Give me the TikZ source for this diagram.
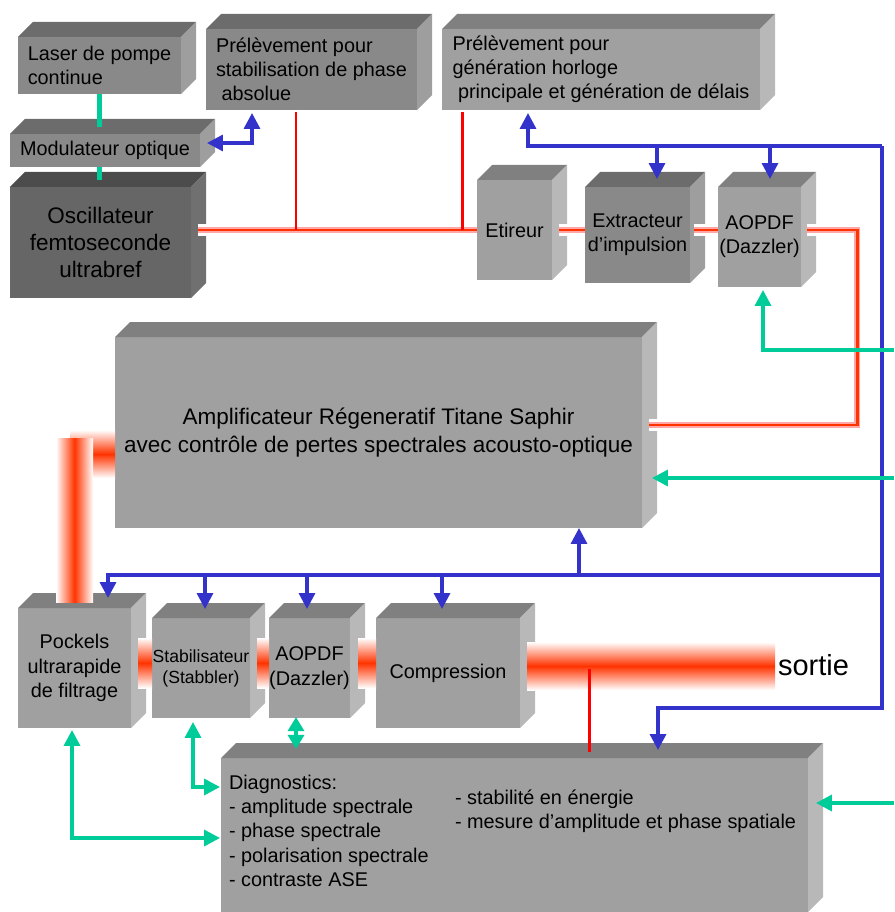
\documentclass[tikz,border=0pt]{standalone}
\usepackage{fontspec}
\setmainfont{Liberation Sans}
\usetikzlibrary{positioning,arrows.meta,calc}

\definecolor{faceC}{HTML}{A0A0A0}
\definecolor{topC}{HTML}{808080}
\definecolor{sideC}{HTML}{B8B8B8}
\definecolor{face2}{HTML}{898989}
\definecolor{top2}{HTML}{6C6C6C}
\definecolor{side2}{HTML}{9E9E9E}
\definecolor{face3}{HTML}{666666}
\definecolor{top3}{HTML}{4C4C4C}
\definecolor{side3}{HTML}{707070}
\definecolor{bleuC}{HTML}{3333CC}
\definecolor{vertC}{HTML}{00CC99}
\definecolor{rouge}{HTML}{FF0000}
\definecolor{rayon}{HTML}{FF3300}

\newcommand\ftxt{\fontsize{11.3}{13.8}\selectfont}
\newcommand\fgrand{\fontsize{12.8}{15.6}\selectfont}
\newcommand\fpetit{\fontsize{10}{12}\selectfont}
\newcommand\fsortie{\fontsize{16.5}{19}\selectfont}

\begin{document}
\begin{tikzpicture}[x=0.02cm, y=-0.02cm,
  bloc/.style={fill=faceC, inner sep=0pt, outer sep=0pt, anchor=north west, align=center, font=\ftxt},
  wh/.style 2 args={minimum width=#1*0.02cm, minimum height=#2*0.02cm},
  txt/.style={inner sep=0pt, outer sep=0pt, align=left, font=\ftxt},
  bleu/.style={draw=bleuC, line width=1.9pt},
  vert/.style={draw=vertC, line width=2pt},
  tap/.style={draw=rouge, line width=1.7pt},
  beam/.style={draw=red!35!white, line width=3.6pt, preaction={draw=white, line width=6.5pt}, postaction={draw=rayon, line width=1.7pt}},
  rayH/.style={top color=white, bottom color=white, middle color=rayon},
  rayV/.style={left color=white, right color=white, middle color=rayon},
  >={Triangle[length=9pt, width=9pt]}]

\useasboundingbox (0,0) rectangle (894,912);

\node[bloc, fill=face2, wh={163}{57}, align=left] (laser) at (18,37) {Laser de pompe\\continue};
\node[bloc, fill=face2, wh={211}{81}, align=left] (stab) at (206,29) {Prélèvement pour\\stabilisation de phase\\\hspace*{0.28em}absolue};
\node[bloc, wh={318}{81}, align=left] (horloge) at (442,29) {Prélèvement pour\\génération horloge\\\hspace*{0.28em}principale et génération de délais};
\node[bloc, fill=face2, wh={190}{33}] (modul) at (10,134) {Modulateur optique};
\node[bloc, fill=face3, wh={181}{111}, font=\fgrand] (osc) at (10,187) {Oscillateur\\femtoseconde\\ultrabref};
\node[bloc, wh={75}{100}] (etireur) at (477,180) {Etireur};
\node[bloc, fill=face2, wh={105}{96}] (extract) at (585,187) {Extracteur\\d’impulsion};
\node[bloc, wh={83}{100}] (aopdfA) at (718,187) {AOPDF\\(Dazzler)};
\node[bloc, wh={527}{191}, font=\fgrand] (ampli) at (115,337) {Amplificateur Régeneratif Titane Saphir\\avec contrôle de pertes spectrales acousto-optique};
\node[bloc, wh={113}{120}] (pockels) at (18,608) {Pockels\\ultrarapide\\de filtrage};
\node[bloc, wh={98}{100}, font=\fpetit] (stabil) at (152,618) {Stabilisateur\\(Stabbler)};
\node[bloc, wh={81}{100}] (aopdfB) at (269,618) {AOPDF\\(Dazzler)};
\node[bloc, wh={144}{110}] (compr) at (376,618) {Compression};
\node[bloc, wh={587}{154}] (diag) at (221,758) {};
\node[txt, anchor=north west] (diagL) at (229,775) {Diagnostics:\\- amplitude spectrale\\- phase spectrale\\- polarisation spectrale\\- contraste ASE};
\node[txt, anchor=north west] (diagR) at (455,790) {- stabilité en énergie\\- mesure d’amplitude et phase spatiale};
\node[txt, font=\fsortie, anchor=west] (sortie) at (778,665) {sortie};

\foreach \n/\ct/\cs in {laser/top2/side2, stab/top2/side2, horloge/topC/sideC, modul/top2/side2, osc/top3/side3, etireur/topC/sideC, extract/top2/side2, aopdfA/topC/sideC, ampli/topC/sideC, pockels/topC/sideC, stabil/topC/sideC, aopdfB/topC/sideC, compr/topC/sideC, diag/topC/sideC}{
  \fill[\ct] (\n.north west) -- ++(15,-15) -- ($(\n.north east)+(15,-15)$) -- (\n.north east) -- cycle;
  \fill[\cs] (\n.north east) -- ++(15,-15) -- ($(\n.south east)+(15,-15)$) -- (\n.south east) -- cycle;
}

% faisceau oscillateur -> ampli
\draw[beam] ($(etireur.west -| osc.east)+(7,0)$) -- (etireur.west);
\draw[beam] ($(etireur.east)+(7,0)$) -- (etireur.east -| extract.west);
\draw[beam] ($(etireur.east -| extract.east)+(4,0)$) -- (etireur.east -| aopdfA.west);
\coordinate (r1) at ($(etireur.east -| aopdfA.east)+(6,0)$);
\draw[beam] (r1) -- ++(50,0) |- ($(ampli.east)+(7,-7.5)$);
\draw[tap] ($(stab.south west)+(90,2)$) -- ($(stab.south west |- etireur.west)+(90,0)$);
\draw[tap] ($(horloge.south west)+(20,2)$) -- ($(horloge.south west |- etireur.west)+(20,0)$);

% faisceau ampli -> sortie
\shade[rayH] ($(ampli.west)+(-45,-2.5)$) rectangle ($(ampli.west)+(0,45.5)$);
\shade[rayV] ($(pockels.north west)+(38,-6)$) rectangle ($(pockels.north west)+(75,-170)$);
\shade[rayH] ($(pockels.east)+(7,-30)$) rectangle ($(stabil.west)+(0,20)$);
\shade[rayH] ($(stabil.east)+(7,-30)$) rectangle ($(aopdfB.west)+(0,20)$);
\shade[rayH] ($(aopdfB.east)+(8,-30)$) rectangle ($(compr.west)+(0,15)$);
\shade[rayH] ($(compr.east)+(7,-31)$) rectangle ($(sortie.west)+(-3,25)$);
\draw[tap] ($(compr.east)+(69,-4)$) -- ($(diag.north west)+(368,-6)$);

% commandes
\coordinate (bN) at (882,146);
\coordinate (bM) at (882,575);
\coordinate (bS) at (882,708);
\coordinate (eN) at ($(extract.north west)+(72,-8)$);
\coordinate (aN) at ($(aopdfA.north west)+(52,-8)$);
\coordinate (pN) at ($(pockels.north west)+(90,-10)$);
\coordinate (sN) at ($(stabil.north west)+(53,-9)$);
\coordinate (dN) at ($(aopdfB.north west)+(38,-9)$);
\coordinate (cN) at ($(compr.north west)+(66,-9)$);
\coordinate (amS) at ($(ampli.south west)+(464,0)$);
\draw[bleu, <->] ($(modul.east)+(7,-7.5)$) -| ($(stab.south west)+(46,3)$);
\draw[bleu, ->] (bN) -| ($(horloge.south west)+(86,3)$);
\draw[bleu, ->] (eN |- bN) -- (eN);
\draw[bleu, ->] (aN |- bN) -- (aN);
\draw[bleu, ->] (bN) -- (bS) -| ($(diag.north west)+(437,-8)$);
\draw[bleu, ->] (bM) -| (pN);
\foreach \c in {sN,dN,cN} \draw[bleu, ->] (\c |- bM) -- (\c);
\draw[bleu, ->] (amS |- bM) -- (amS);

\coordinate (gA) at (894,350);
\coordinate (gB) at (894,478);
\coordinate (gC) at (894,803);
\draw[vert, line width=3.4pt] (laser.south) -- ($(laser.south |- modul.north)+(0,-7)$);
\draw[vert, line width=3.4pt] (laser.south |- modul.south) -- ($(laser.south |- osc.north)+(0,-7)$);
\draw[vert, ->] (gA) -| ($(aopdfA.south)+(3.5,3)$);
\draw[vert, ->] (gB) -- ($(ampli.east |- gB)+(10,0)$);
\draw[vert, ->] (gC) -- ($(diag.east |- gC)+(8,0)$);
\draw[vert, {Triangle[length=8pt, width=9pt]}-{Triangle[length=8pt, width=9pt]}] ($(aopdfB.south)+(-13.5,-1)$) -- ($(aopdfB.south |- diag.north)+(-13.5,-9)$);
\draw[vert, <->] ($(stabil.south)+(-8,4)$) |- ($(diag.north west)+(-1,29)$);
\draw[vert, <->] ($(pockels.south)+(-2.5,2)$) |- ($(diag.north west)+(-1,80)$);
\end{tikzpicture}
\end{document}
